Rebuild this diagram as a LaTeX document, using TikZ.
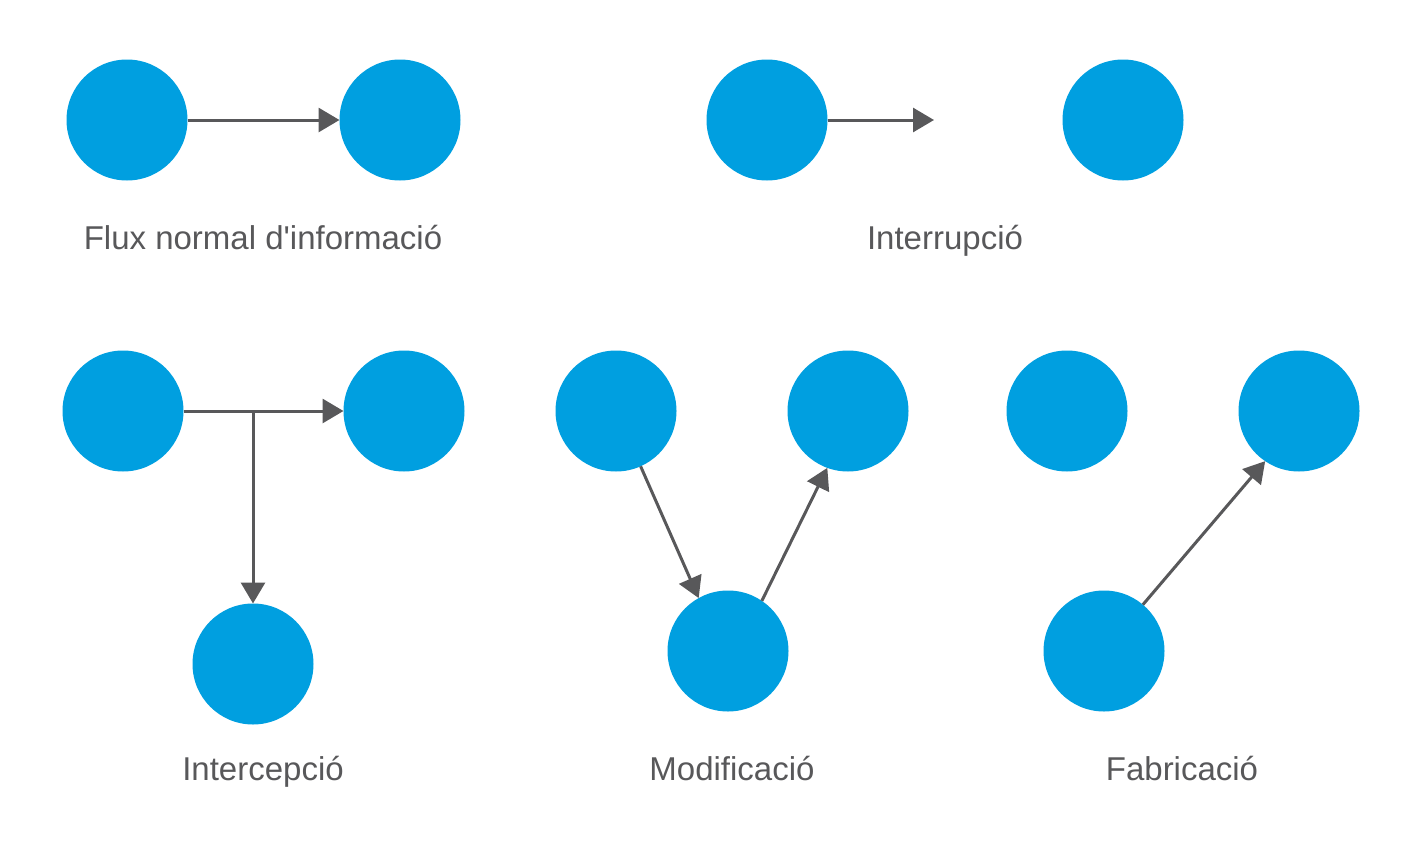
\documentclass[tikz,border=0pt]{standalone}
\usepackage{fontspec}
\newfontfamily\capfont{Liberation Sans}
\usetikzlibrary{arrows.meta}
\definecolor{nodeblue}{HTML}{009FE0}
\definecolor{linegray}{HTML}{58585A}
\definecolor{textgray}{HTML}{58585A}
\begin{document}
\begin{tikzpicture}[x=1pt,y=-1pt,
  dot/.style={circle,fill=nodeblue,minimum size=121pt,inner sep=0pt,outer sep=0pt},
  link/.style={draw=linegray,line width=3pt,-{Triangle[length=21pt,width=24pt]}},
  caption/.style={anchor=base,text=textgray,font=\capfont\fontsize{33}{40}\selectfont,inner sep=0pt}]
\useasboundingbox (0,0) rectangle (1417,846);
% Flux normal
\node[dot] (n1) at (127,120) {};
\node[dot] (n2) at (400,120) {};
\draw[link] (n1.east) -- (n2.west);
\node[caption] (t1) at (263,249) {Flux normal d'informació};
% Interrupció
\node[dot] (i1) at (767,120) {};
\node[dot] (i2) at (1123,120) {};
\coordinate (iend) at (934,120);
\draw[link] (i1.east) -- (iend);
\node[caption] (t2) at (945,249) {Interrupció};
% Intercepció
\node[dot] (c1) at (123,411) {};
\node[dot] (c2) at (404,411) {};
\node[dot] (c3) at (253,664) {};
\coordinate (cb) at (253,411);
\draw[link] (c1.east) -- (c2.west);
\draw[link] (cb) -- (c3.north);
\node[caption] (t3) at (263,780) {Intercepció};
% Modificació
\node[dot] (m1) at (616,411) {};
\node[dot] (m2) at (848,411) {};
\node[dot] (m3) at (728,651) {};
\draw[link] (m1.-66.8) -- (m3.119);
\draw[link] (m3.56.3) -- (m2.-110);
\node[caption] (t4) at (732,780) {Modificació};
% Fabricació
\node[dot] (f1) at (1067,411) {};
\node[dot] (f2) at (1299,411) {};
\node[dot] (f3) at (1104,651) {};
\draw[link] (f3.50.3) -- (f2.-124);
\node[caption] (t5) at (1182,780) {Fabricació};
\end{tikzpicture}
\end{document}
